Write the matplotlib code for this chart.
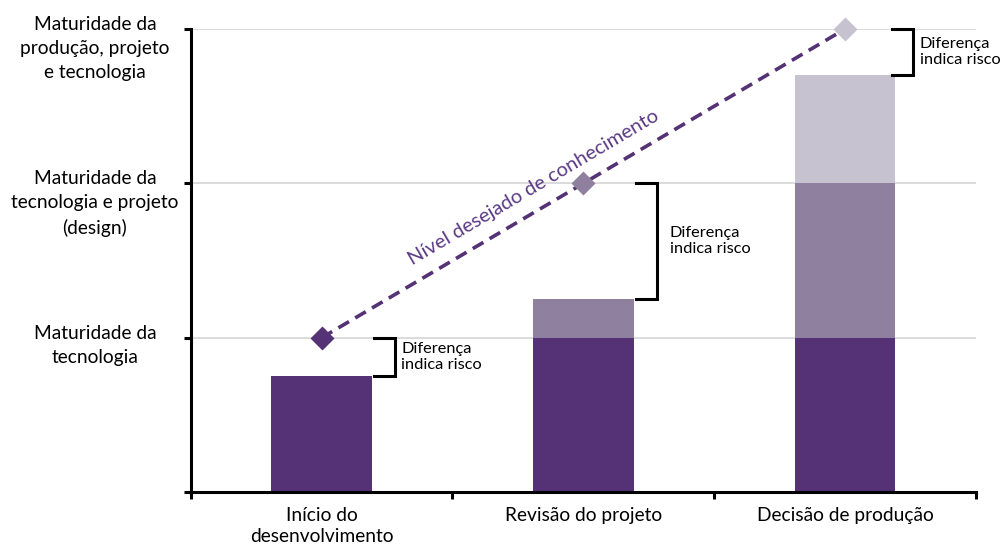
import numpy as np
import matplotlib.pyplot as plt
import matplotlib.transforms as mtransforms

plt.rcParams['font.family'] = ['Lato', 'DejaVu Sans']

categories = ["Início do\ndesenvolvimento", "Revisão do projeto", "Decisão de produção"]
level_labels = ["Maturidade da\ntecnologia",
                "Maturidade da\ntecnologia e projeto\n(design)",
                "Maturidade da\nprodução, projeto\ne tecnologia"]
tecnologia = [0.75, 1.0, 1.0]
projeto = [0.0, 0.25, 1.0]
producao = [0.0, 0.0, 0.7]
desejado = [1, 2, 3]

dark = "#543275"
mid = "#8f809f"
light = "#c6c2d0"

fig = plt.figure(figsize=(10.04, 5.48), dpi=100)
ax = fig.add_axes([0.19, 0.102, 0.782, 0.845])

x = np.arange(len(categories)) + 0.5
w = 0.385
ax.bar(x, tecnologia, w, color=dark, zorder=2)
ax.bar(x, projeto, w, bottom=tecnologia, color=mid, zorder=2)
base = np.array(tecnologia) + np.array(projeto)
ax.bar(x, producao, w, bottom=base, color=light, zorder=2)
tops = base + np.array(producao)

# linha tracejada do nível desejado
ax.plot(x, desejado, color=dark, lw=2.6, dashes=(3.4, 2.0), zorder=3,
        clip_on=False)
for xi, yi, c in zip(x, desejado, [dark, mid, light]):
    ax.plot(xi, yi, marker='D', ms=12.5, color=c, mec='none', zorder=4,
            clip_on=False)

# colchetes da diferença
arm = [(0.70, 0.78), (1.70, 1.78), (2.68, 2.76)]
gap = [0.025, 0.05, 0.025]
for (x0, x1), g, top, target in zip(arm, gap, tops, desejado):
    ax.plot([x0, x1, x1, x0], [target, target, top, top], color='black',
            lw=2.2, solid_joinstyle='miter', zorder=3, clip_on=False)
    ax.text(x1 + g, (top + target) / 2, "Diferença\nindica risco",
            fontsize=11.8, ha='left', va='center', linespacing=1.15)

ax.set_xlim(0, 3)
ax.set_ylim(0, 3)

fig.canvas.draw()
p0 = ax.transData.transform((x[0], desejado[0]))
p1 = ax.transData.transform((x[-1], desejado[-1]))
ang = np.degrees(np.arctan2(p1[1] - p0[1], p1[0] - p0[0]))
ax.text(1.31, 1.97, "Nível desejado de conhecimento", rotation=ang,
        rotation_mode='anchor', ha='center', va='center', fontsize=14.5,
        color="#5b3b85")

ax.set_xticks([0, 1, 2, 3])
ax.set_xticklabels([])
ax.set_xticks(x, minor=True)
ax.set_xticklabels(categories, minor=True, fontsize=13.8, linespacing=1.25)
ax.tick_params(axis='x', which='minor', length=0, pad=11)
ax.set_yticks([0, 1, 2, 3])
ax.set_yticklabels([])
ax.tick_params(which='major', length=5, width=2.2, color='black')

trans = mtransforms.blended_transform_factory(ax.transAxes, ax.transData)
for lvl, lab in zip([1, 2, 3], level_labels):
    ax.text(-0.122, lvl + 0.085, lab, transform=trans, ha='center', va='top',
            fontsize=13.8, linespacing=1.5)

ax.grid(axis='y', color='#d9d9d9', lw=1.3, zorder=0)
ax.set_axisbelow(True)
for s in ['top', 'right']:
    ax.spines[s].set_visible(False)
for s in ['left', 'bottom']:
    ax.spines[s].set_linewidth(2.2)
    ax.spines[s].set_color('black')

fig.savefig("out.png", dpi=100)
